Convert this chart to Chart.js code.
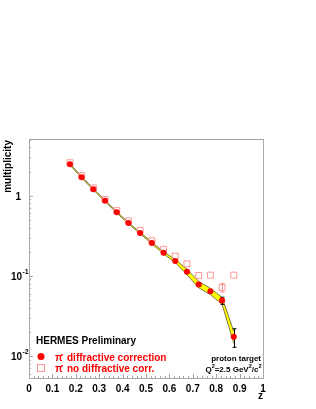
<!DOCTYPE html>
<html>
<head>
<meta charset="utf-8">
<script src="https://cdn.jsdelivr.net/npm/chart.js@4"></script>
<style>
html,body{margin:0;padding:0;background:#fff;}
canvas{display:block;}
</style>
</head>
<body>
<canvas id="c" width="316" height="409"></canvas>
<script>
// ---- data ----
const zValues   = [0.175,0.225,0.275,0.325,0.375,0.425,0.475,0.525,0.575,0.625,0.675,0.725,0.775,0.825,0.875];
const diffCorr  = [2.46,1.70,1.20,0.866,0.62,0.455,0.342,0.257,0.194,0.153,0.112,0.078,0.064,0.049,0.0173];
const diffErr   = [0.02,0.015,0.01,0.008,0.006,0.005,0.004,0.004,0.003,0.003,0.003,0.003,0.003,0.005,0.0045];
const noDiffCorr= [2.58,1.78,1.25,0.90,0.65,0.483,0.369,0.274,0.214,0.176,0.141,0.101,0.102,0.0716,0.102];
const noDiffErr = [0,0,0,0,0,0,0,0,0,0,0,0,0,0.009,0];
const sysRel    = [0.02,0.02,0.02,0.02,0.02,0.02,0.02,0.025,0.03,0.045,0.08,0.09,0.09,0.10,0.17];
const xTickLabels = ['0','0.1','0.2','0.3','0.4','0.5','0.6','0.7','0.8','0.9','1'];
const xTickValues = [0,0.1,0.2,0.3,0.4,0.5,0.6,0.7,0.8,0.9,1];
const yTickValues = [1,0.1,0.01];
const yTickBase   = ['1','10','10'];
const yTickExp    = ['','-1','-2'];
const legendLabels = ['diffractive correction','no diffractive corr.'];

const RED = '#ff0000';
const PINK = '#ff9494';
const FRAME = '#a8a8a8';
const FONT = '"Liberation Sans", Arial, Helvetica, sans-serif';

const bandHigh = diffCorr.map((v,i)=>v*(1+sysRel[i]));
const bandLow  = diffCorr.map((v,i)=>v*(1-sysRel[i]));
const pts = arr => zValues.map((z,i)=>({x:z,y:arr[i]}));

const decor = {
  id:'decor',
  afterDatasetDraw(chart, args){
    if (args.index !== 2) return;
    const ctx = chart.ctx, xs = chart.scales.x, ys = chart.scales.y;
    ctx.save();
    ctx.strokeStyle = '#000'; ctx.lineWidth = 1;
    const bar = (z, v, e) => {
      if (!e) return;
      const px = Math.round(xs.getPixelForValue(z)) + 0.5;
      const y1 = ys.getPixelForValue(v + e), y2 = ys.getPixelForValue(v - e);
      ctx.beginPath();
      ctx.moveTo(px, y1); ctx.lineTo(px, y2);
      ctx.moveTo(px-2, y1); ctx.lineTo(px+2, y1);
      ctx.moveTo(px-2, y2); ctx.lineTo(px+2, y2);
      ctx.stroke();
    };
    zValues.forEach((z,i)=>{ bar(z, diffCorr[i], diffErr[i]); });
    ctx.strokeStyle = PINK;
    zValues.forEach((z,i)=>{ bar(z, noDiffCorr[i], noDiffErr[i]); });
    ctx.restore();
  },
  afterDraw(chart){
    const ctx = chart.ctx, xs = chart.scales.x, ys = chart.scales.y;
    const a = chart.chartArea;
    ctx.save();
    // frame
    ctx.strokeStyle = FRAME; ctx.lineWidth = 1;
    ctx.strokeRect(Math.round(a.left)+0.5, Math.round(a.top)+0.5, Math.round(a.right-a.left), Math.round(a.bottom-a.top));
    // x ticks
    ctx.beginPath();
    for (let k=0;k<=50;k++){
      const v = k/50;
      const px = Math.round(xs.getPixelForValue(v))+0.5;
      const len = (k%5===0)?4:2;
      ctx.moveTo(px, a.bottom); ctx.lineTo(px, a.bottom-len);
    }
    // y ticks (log)
    for (let d=-3; d<=0; d++){
      for (let m=1; m<=9; m++){
        const v = m*Math.pow(10,d);
        if (v < ys.min || v > ys.max) continue;
        const py = Math.round(ys.getPixelForValue(v))+0.5;
        const len = (m===1)?4:2;
        ctx.moveTo(a.left, py); ctx.lineTo(a.left+len, py);
      }
    }
    ctx.stroke();
    // x tick labels
    ctx.fillStyle = '#000';
    ctx.font = 'bold 10px ' + FONT;
    ctx.textAlign = 'center'; ctx.textBaseline = 'alphabetic';
    xTickValues.forEach((v,i)=>{
      ctx.fillText(xTickLabels[i], xs.getPixelForValue(v), a.bottom + 14);
    });
    // y tick labels
    yTickValues.forEach((v,i)=>{
      const py = ys.getPixelForValue(v);
      ctx.font = 'bold 10px ' + FONT;
      ctx.textAlign = 'right';
      if (yTickExp[i]) {
        ctx.fillText(yTickBase[i], 22, py + 4);
        ctx.font = 'bold 7px ' + FONT;
        ctx.textAlign = 'left';
        ctx.fillText(yTickExp[i], 22.5, py - 2);
      } else {
        ctx.fillText(yTickBase[i], 21, py + 4);
      }
    });
    // axis titles
    ctx.font = 'bold 10px ' + FONT;
    ctx.textAlign = 'right';
    ctx.fillText('z', a.right, 399);
    ctx.save();
    ctx.translate(11, a.top + 1);
    ctx.rotate(-Math.PI/2);
    ctx.textAlign = 'right';
    ctx.fillText('multiplicity', 0, 0);
    ctx.restore();
    // legend
    ctx.textAlign = 'left';
    ctx.fillStyle = '#000';
    ctx.font = 'bold 10px ' + FONT;
    ctx.fillText('HERMES Preliminary', 36, 344);
    // filled circle
    ctx.fillStyle = RED;
    ctx.beginPath(); ctx.arc(41, 356.5, 3.5, 0, Math.PI*2); ctx.fill();
    ctx.strokeStyle = PINK; ctx.lineWidth = 1;
    ctx.strokeRect(37.5, 364.5, 7, 7);
    ctx.fillStyle = RED;
    const entry = (y, label) => {
      ctx.font = 'bold 10px ' + FONT;
      ctx.fillText('π', 55, y);
      ctx.font = 'bold 7px ' + FONT;
      ctx.fillText('-', 61, y - 5);
      ctx.font = 'bold 10px ' + FONT;
      ctx.fillText(label, 67, y);
    };
    entry(360.5, legendLabels[0]);
    entry(372, legendLabels[1]);
    // target text
    ctx.fillStyle = '#000';
    ctx.textAlign = 'right';
    ctx.font = 'bold 8px ' + FONT;
    ctx.fillText('proton target', 261, 360.5);
    // Q2 text with superscripts
    const parts = [['Q',0],['2',1],['=2.5 GeV',0],['2',1],['/c',0],['2',1]];
    let w = 0;
    parts.forEach(p=>{ ctx.font = (p[1]?'bold 5.5px ':'bold 8px ') + FONT; w += ctx.measureText(p[0]).width; });
    let x = 261.5 - w;
    ctx.textAlign = 'left';
    parts.forEach(p=>{
      ctx.font = (p[1]?'bold 5.5px ':'bold 8px ') + FONT;
      ctx.fillText(p[0], x, p[1] ? 368 : 372);
      x += ctx.measureText(p[0]).width;
    });
    ctx.restore();
  }
};

new Chart(document.getElementById('c'), {
  type: 'line',
  data: {
    datasets: [
      { label:'diffractive correction', data: pts(diffCorr), showLine:false,
        pointStyle:'circle', pointRadius:3, pointBackgroundColor:RED, pointBorderColor:RED, borderWidth:0 },
      { label:'no diffractive corr.', data: pts(noDiffCorr), showLine:false,
        pointStyle:'rect', pointRadius:4.2, pointBackgroundColor:'rgba(0,0,0,0)', pointBorderColor:PINK, pointBorderWidth:1 },
      { label:'sys high', data: pts(bandHigh), showLine:true, pointRadius:0,
        borderColor:'#5a5a3a', borderWidth:0.8, fill:false, tension:0 },
      { label:'sys low', data: pts(bandLow), showLine:true, pointRadius:0,
        borderColor:'#5a5a3a', borderWidth:0.8, fill:'-1', backgroundColor:'#ffff00', tension:0 }
    ]
  },
  options: {
    responsive:false, animation:false,
    layout:{ padding:{ left:29, right:53, top:139, bottom:31 } },
    plugins:{ legend:{display:false}, tooltip:{enabled:false} },
    scales:{
      x:{ type:'linear', min:0, max:1, display:false },
      y:{ type:'logarithmic', min:0.0053, max:5.1, display:false }
    }
  },
  plugins:[decor]
});
</script>
</body>
</html>
